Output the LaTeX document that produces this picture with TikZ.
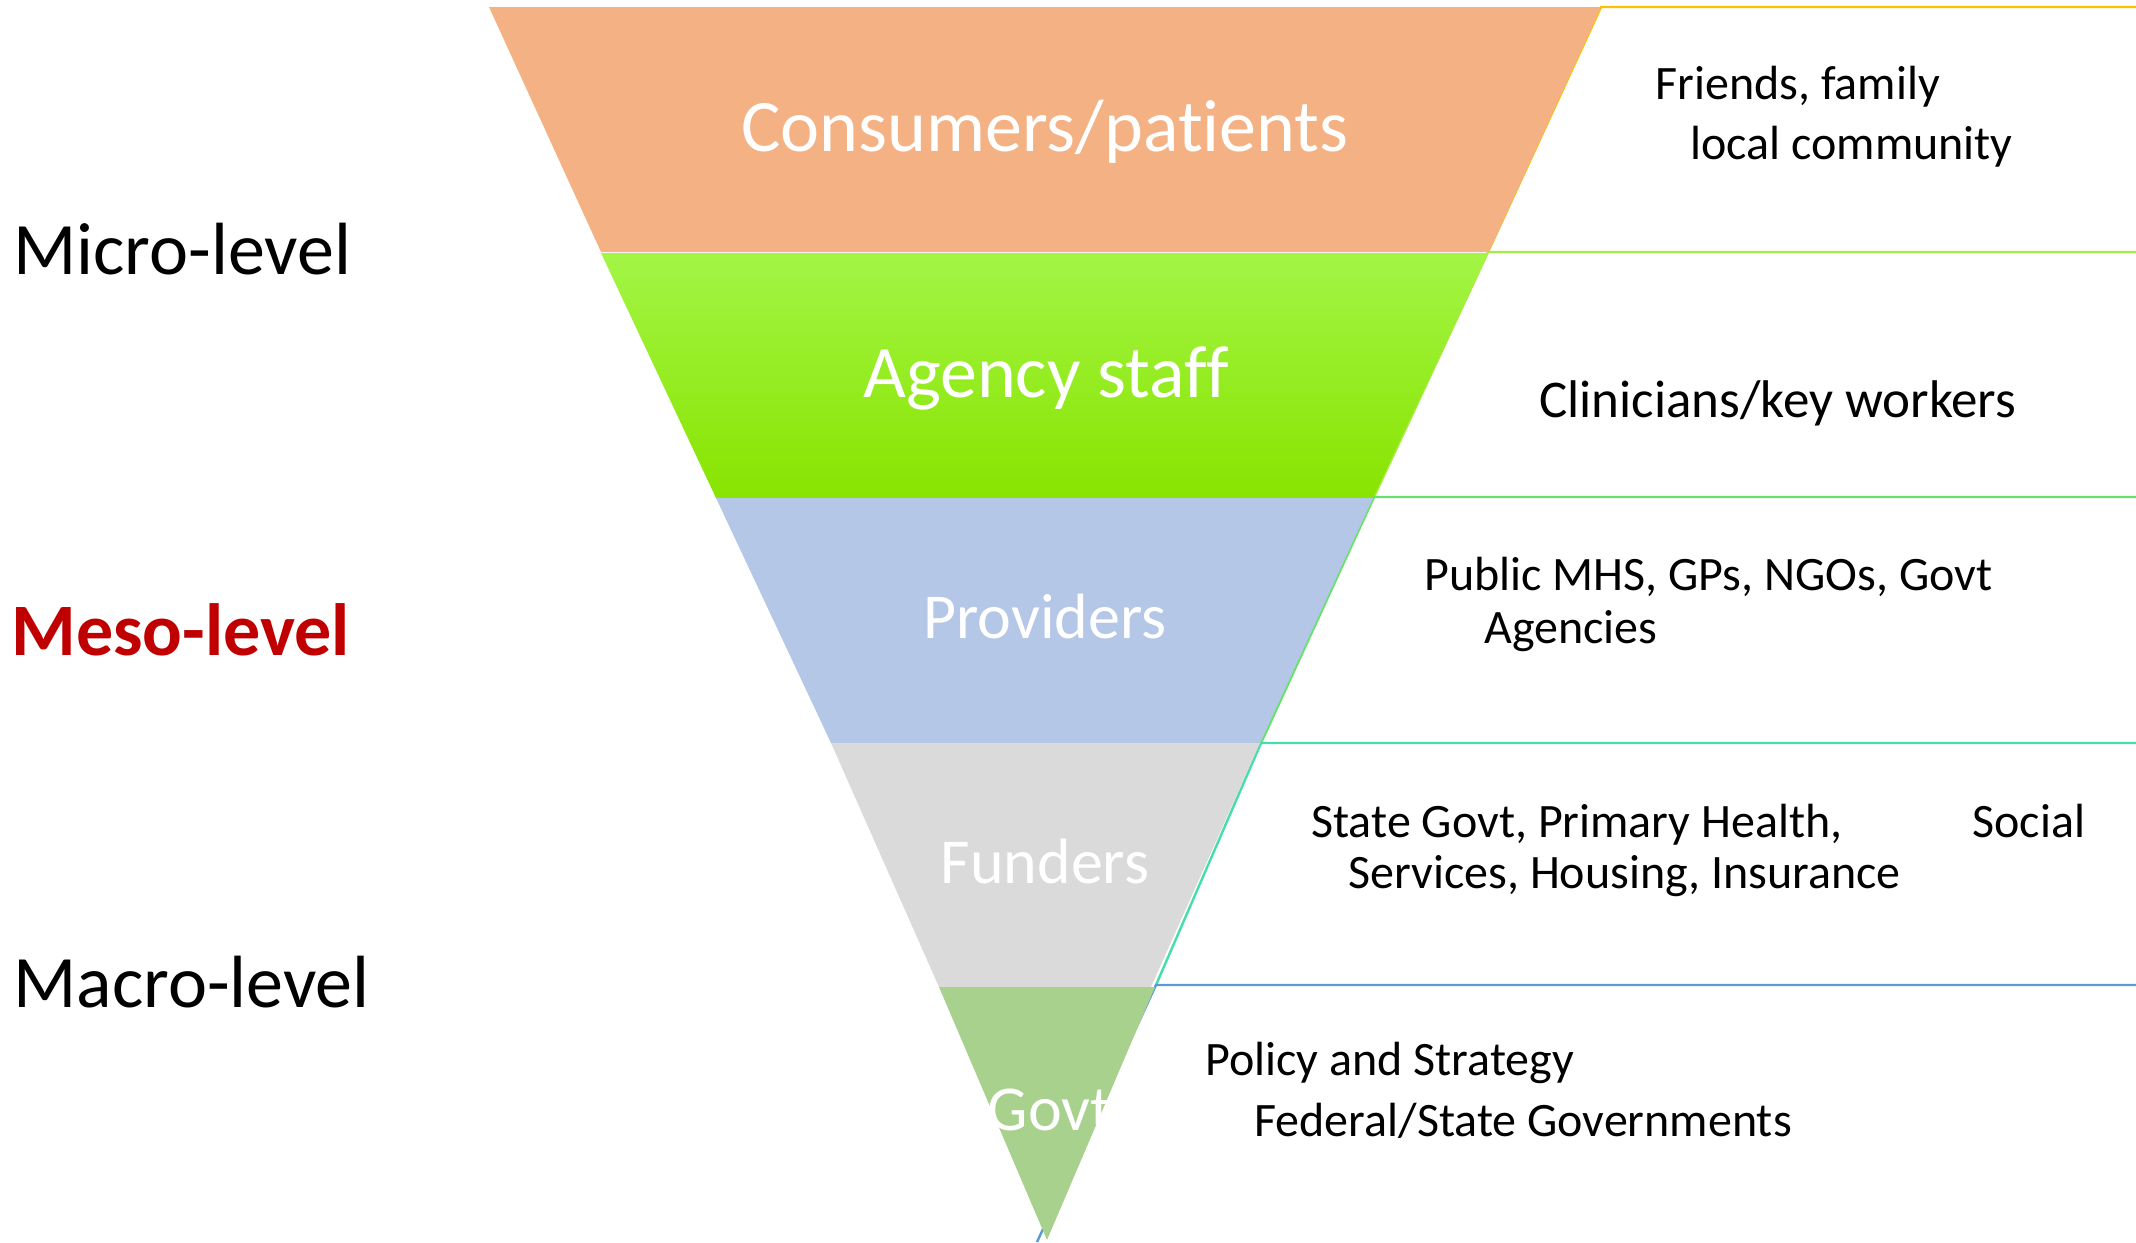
\documentclass[tikz,border=0pt]{standalone}
\usepackage{fontspec}
\setmainfont{Carlito}[Ligatures=NoCommon]
\definecolor{bandA}{HTML}{F4B183}
\definecolor{bandBtop}{HTML}{A3F545}
\definecolor{bandBbot}{HTML}{88E400}
\definecolor{bandC}{HTML}{B4C7E7}
\definecolor{bandD}{HTML}{DADADA}
\definecolor{bandE}{HTML}{A9D18E}
\definecolor{lineA}{HTML}{FFC000}
\definecolor{lineB}{HTML}{A9EB45}
\definecolor{lineC}{HTML}{66E26A}
\definecolor{lineD}{HTML}{45DDA8}
\definecolor{lineE}{HTML}{5B9BD5}
\definecolor{mesored}{HTML}{C00000}
\tikzset{
  bandtext/.style={anchor=base, inner sep=0pt, text=white},
  bigband/.style={bandtext, font=\fontsize{37}{44}\selectfont},
  smallband/.style={bandtext, font=\fontsize{32}{38}\selectfont},
  sidetext/.style={anchor=base west, inner sep=0pt, text=black, font=\fontsize{24}{29}\selectfont},
  leveltext/.style={anchor=base west, inner sep=0pt, font=\fontsize{37}{44}\selectfont},
  boxline/.style={line width=1.2pt}
}
\begin{document}
\begin{tikzpicture}[x=0.5pt,y=-0.5pt]
\path[use as bounding box] (0,0) rectangle (2136,1242);
% right box outlines (top line + slanted left edge)
\draw[boxline, lineA] (2136,7) -- (1601,7) -- (1488,252);
\draw[boxline, lineB] (2136,252) -- (1488,252) -- (1374,497);
\draw[boxline, lineC] (2136,497) -- (1374,497) -- (1261,743);
\draw[boxline, lineD] (2136,743) -- (1261,743) -- (1156,985);
\draw[boxline, lineE] (2136,985) -- (1156,985) -- (1037,1242);
% funnel bands
\fill[bandA] (489,7) -- (1601,7) -- (1489,252) -- (601,252) -- cycle;
\shade[top color=bandBtop, bottom color=bandBbot] (601,253) -- (1488,253) -- (1373,498) -- (716,498) -- cycle;
\fill[bandC] (716,498) -- (1373,498) -- (1260,743) -- (831,743) -- cycle;
\fill[bandD] (831,743) -- (1260,743) -- (1151,987) -- (939,987) -- cycle;
\fill[bandE] (939,987) -- (1155,987) -- (1047,1240) -- cycle;
% band labels
\node[bigband] (consumers) at (1045,151) {Consumers/patients};
\node[bigband] (agency) at (1046,397) {Agency staff};
\node[smallband] (providers) at (1045,638) {Providers};
\node[smallband] (funders) at (1045,883) {Funders};
\node[smallband] (govt) at (1050,1130) {Govt};
% side texts
\node[sidetext] (friends) at (1655,99) {Friends, family};
\node[sidetext] (local) at (1690,159) {local community};
\node[sidetext, font=\fontsize{26.5}{31}\selectfont] (clinicians) at (1539,417) {Clinicians/key workers};
\node[sidetext] (public) at (1424,590) {Public MHS, GPs, NGOs, Govt};
\node[sidetext] (agencies) at (1484,643) {Agencies};
\node[sidetext] (state) at (1311,837) {State Govt, Primary Health,};
\node[sidetext] (social) at (1972,837) {Social};
\node[sidetext] (services) at (1348,888) {Services, Housing, Insurance};
\node[sidetext] (policy) at (1205,1075) {Policy and Strategy};
\node[sidetext] (federal) at (1254,1136) {Federal/State Governments};
% level labels
\node[leveltext] (micro) at (13,274) {Micro-level};
\node[leveltext, text=mesored, font=\fontsize{37}{44}\selectfont\bfseries] (meso) at (11,655) {Meso-level};
\node[leveltext] (macro) at (13,1007) {Macro-level};
\end{tikzpicture}
\end{document}
